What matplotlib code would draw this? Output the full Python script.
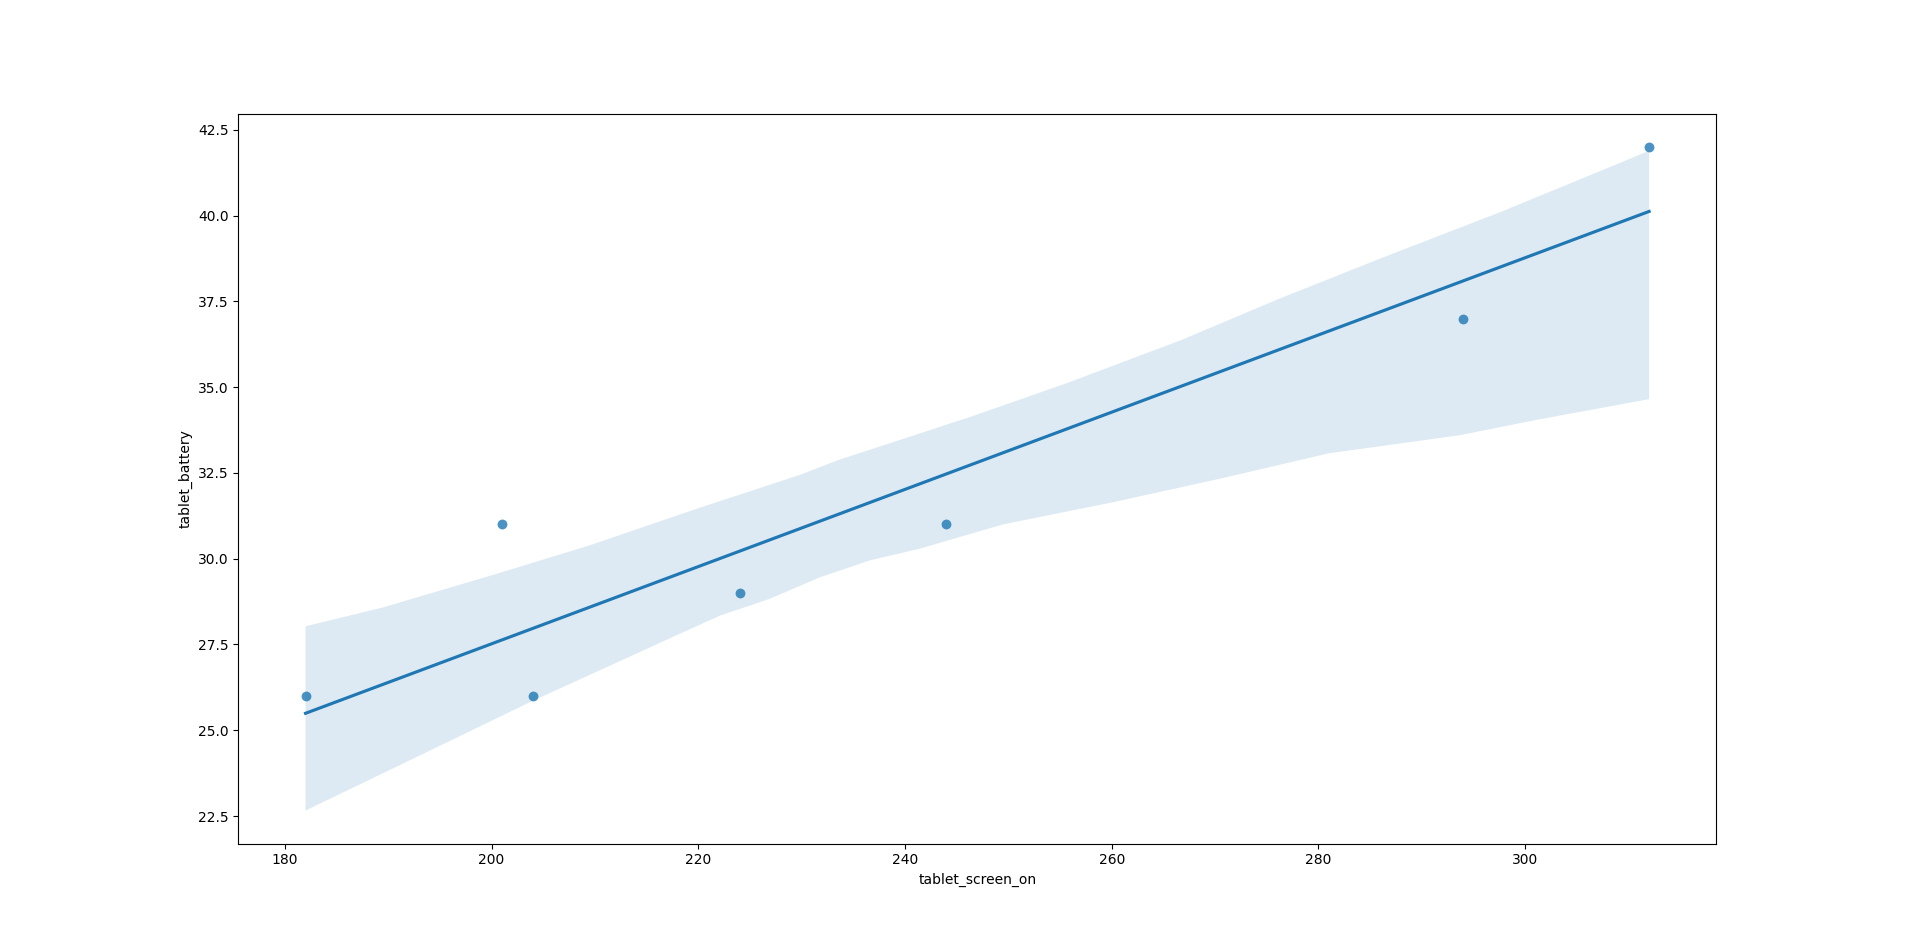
import numpy as np
import matplotlib
matplotlib.use("Agg")
import matplotlib.pyplot as plt

# data points
screen_on = [182, 201, 204, 224, 244, 294, 312]
battery = [26, 31, 26, 29, 31, 37, 42]

# confidence band edges
ci_upper_x = [182.0, 189.5, 195.0, 200.5, 209.5, 216.1, 220.6, 229.8, 233.5, 239.5,
              246.4, 255.7, 266.8, 276.0, 286.0, 297.6, 308.9, 312.0]
ci_upper_y = [28.03, 28.58, 29.07, 29.56, 30.39, 31.07, 31.53, 32.44, 32.87, 33.46,
              34.14, 35.12, 36.38, 37.55, 38.75, 40.10, 41.50, 41.89]
ci_lower_x = [182.0, 192.4, 204.0, 211.8, 218.2, 222.1, 226.9, 231.8, 236.6, 241.4,
              249.5, 260.2, 270.6, 281.0, 293.7, 301.0, 312.0]
ci_lower_y = [22.66, 24.17, 25.86, 26.93, 27.81, 28.34, 28.83, 29.46, 29.95, 30.29,
              31.00, 31.65, 32.34, 33.07, 33.60, 34.04, 34.65]

color = "#1f77b4"

fig, ax = plt.subplots(figsize=(19.07, 9.48), dpi=100)

ax.scatter(screen_on, battery, s=50, color=color, alpha=0.8, linewidths=0, zorder=3)

slope, intercept = np.polyfit(screen_on, battery, 1)
xs = np.array([min(screen_on), max(screen_on)])
ax.plot(xs, slope * xs + intercept, color=color, lw=2.25, zorder=2)

poly_x = ci_upper_x + ci_lower_x[::-1]
poly_y = ci_upper_y + ci_lower_y[::-1]
ax.fill(poly_x, poly_y, facecolor=color, alpha=0.15, edgecolor="none", zorder=1)

ax.set_xlabel("tablet_screen_on")
ax.set_ylabel("tablet_battery")
ax.margins(x=0.05, y=0.05)

fig.savefig("out.png", dpi=100)
